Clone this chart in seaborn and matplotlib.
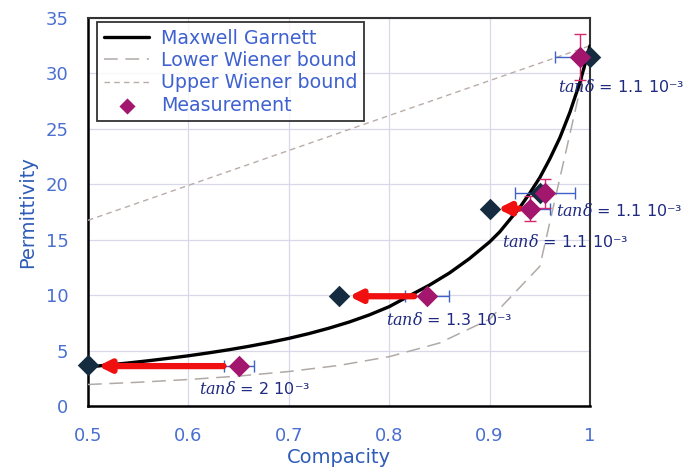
import matplotlib
matplotlib.use("Agg")
import matplotlib.pyplot as plt
import seaborn as sns
import pandas as pd

# ---- data ----
mg_x = [0.50, 0.52, 0.54, 0.56, 0.58, 0.60, 0.62, 0.64, 0.66, 0.68, 0.70, 0.72, 0.74,
        0.76, 0.78, 0.80, 0.82, 0.84, 0.86, 0.88, 0.90, 0.91, 0.92, 0.93, 0.94, 0.95,
        0.96, 0.97, 0.98, 0.99, 1.00]
mg_y = [3.52, 3.70, 3.88, 4.08, 4.30, 4.53, 4.79, 5.07, 5.38, 5.72, 6.10, 6.53, 7.02,
        7.57, 8.21, 8.96, 9.94, 10.9, 12.0, 13.3, 14.8, 15.7, 16.8, 17.9, 19.2, 20.6,
        22.3, 24.2, 26.5, 29.2, 32.5]

low_x = [0.50, 0.55, 0.60, 0.65, 0.70, 0.75, 0.80, 0.85, 0.90, 0.95, 1.00]
low_y = [1.94, 2.14, 2.39, 2.70, 3.11, 3.66, 4.45, 5.68, 7.83, 12.6, 32.5]

up_x = [0.50, 1.00]
up_y = [16.75, 32.5]

meas_x = [0.65, 0.838, 0.94, 0.955, 0.99]
meas_y = [3.6, 9.9, 17.8, 19.2, 31.5]
meas_xerr = [0.015, 0.022, 0.02, 0.03, 0.025]
meas_yerr = [0.0, 0.0, 1.1, 1.3, 2.1]

model_x = [0.50, 0.75, 0.90, 0.95, 1.00]
model_y = [3.7, 9.9, 17.8, 19.2, 31.5]

arrow_start_x = [0.635, 0.825, 0.93]
arrow_end_x = [0.51, 0.76, 0.908]
arrow_y = [3.6, 9.9, 17.8]

tan_labels = ["2", "1.3", "1.1", "1.1", "1.1"]
tan_x = [0.611, 0.797, 0.912, 0.966, 0.968]
tan_y = [1.6, 7.8, 14.8, 17.6, 28.8]

x_ticks = [0.5, 0.6, 0.7, 0.8, 0.9, 1.0]
x_tick_labels = ["0.5", "0.6", "0.7", "0.8", "0.9", "1"]
y_ticks = [0, 5, 10, 15, 20, 25, 30, 35]

# ---- styling ----
sns.set_style("white")
plt.rcParams['font.family'] = ['DejaVu Sans']
plt.rcParams['mathtext.fontset'] = 'dejavuserif'

tick_col = "#4A6FD0"
label_col = "#2E5CB8"
text_col = "#1F2A80"
mag = "#A3166E"
navy = "#152C40"

fig = plt.figure(figsize=(6.93, 4.71), dpi=100)
ax = fig.add_axes([88/693, 1-406/471, (590-88)/693, (406-18)/471])

mg = pd.DataFrame({"x": mg_x, "y": mg_y})
lo = pd.DataFrame({"x": low_x, "y": low_y})
up = pd.DataFrame({"x": up_x, "y": up_y})

sns.lineplot(data=mg, x="x", y="y", ax=ax, color="black", lw=2.4,
             label="Maxwell Garnett", zorder=4)
sns.lineplot(data=lo, x="x", y="y", ax=ax, color="#B0AAA6", lw=1.1,
             label="Lower Wiener bound", zorder=3)
ax.lines[-1].set_dashes([9, 5])
sns.lineplot(data=up, x="x", y="y", ax=ax, color="#B9ADA8", lw=1.0,
             label="Upper Wiener bound", zorder=3)
ax.lines[-1].set_dashes([4, 3])

# error bars
ax.errorbar(meas_x, meas_y, xerr=meas_xerr, fmt="none", ecolor="#3F62C8",
            elinewidth=1.0, capsize=4, capthick=1.0, zorder=5)
yerr_x = [x for x, e in zip(meas_x, meas_yerr) if e > 0]
yerr_y = [y for y, e in zip(meas_y, meas_yerr) if e > 0]
yerr_v = [e for e in meas_yerr if e > 0]
ax.errorbar(yerr_x, yerr_y, yerr=yerr_v, fmt="none", ecolor="#D6286E",
            elinewidth=1.0, capsize=4, capthick=1.0, zorder=5)

# arrows
for xs, xe, y in zip(arrow_start_x, arrow_end_x, arrow_y):
    ax.annotate("", xy=(xe, y), xytext=(xs, y),
                arrowprops=dict(arrowstyle="-|>", color="#F01010", lw=4.5,
                                mutation_scale=17, shrinkA=0, shrinkB=0),
                zorder=6)

md = pd.DataFrame({"x": model_x, "y": model_y})
sns.scatterplot(data=md, x="x", y="y", ax=ax, marker="D", s=120, color=navy,
                edgecolor=navy, linewidth=0, zorder=7, clip_on=False)
ms = pd.DataFrame({"x": meas_x, "y": meas_y})
sns.scatterplot(data=ms, x="x", y="y", ax=ax, marker="D", s=120, color=mag,
                edgecolor=mag, linewidth=0, zorder=8, label="Measurement",
                clip_on=False)

for lab, x, y in zip(tan_labels, tan_x, tan_y):
    ax.text(x, y, r"$tan\delta$" + " = " + lab + " 10\u207b\u00b3",
            color=text_col, fontsize=11.5, va="center", ha="left",
            clip_on=False, zorder=9)

ax.set_xlim(0.5, 1.0)
ax.set_ylim(0, 35)
ax.set_xticks(x_ticks)
ax.set_xticklabels(x_tick_labels)
ax.set_yticks(y_ticks)
ax.tick_params(axis="x", colors=tick_col, labelsize=13, length=0, pad=15)
ax.tick_params(axis="y", colors=tick_col, labelsize=13, length=0, pad=14)
ax.grid(True, color="#D8D8E8", lw=0.9)
ax.set_axisbelow(True)
for s in ["left", "bottom"]:
    ax.spines[s].set_color("black")
    ax.spines[s].set_linewidth(1.8)
for s in ["top", "right"]:
    ax.spines[s].set_color("#333333")
    ax.spines[s].set_linewidth(1.5)

ax.set_xlabel("Compacity", color=label_col, fontsize=14, labelpad=2)
ax.set_ylabel("Permittivity", color=label_col, fontsize=14, labelpad=6)

leg = ax.legend(loc="upper left", bbox_to_anchor=(0.018, 0.99), fontsize=13.7,
                frameon=True, fancybox=False, edgecolor="black",
                handlelength=2.4, borderpad=0.35, labelspacing=0.18,
                handletextpad=0.6, borderaxespad=0, markerscale=0.75)
leg.get_frame().set_linewidth(1.3)
for t in leg.get_texts():
    t.set_color("#3F62D0")

fig.savefig("out.png", dpi=100)
